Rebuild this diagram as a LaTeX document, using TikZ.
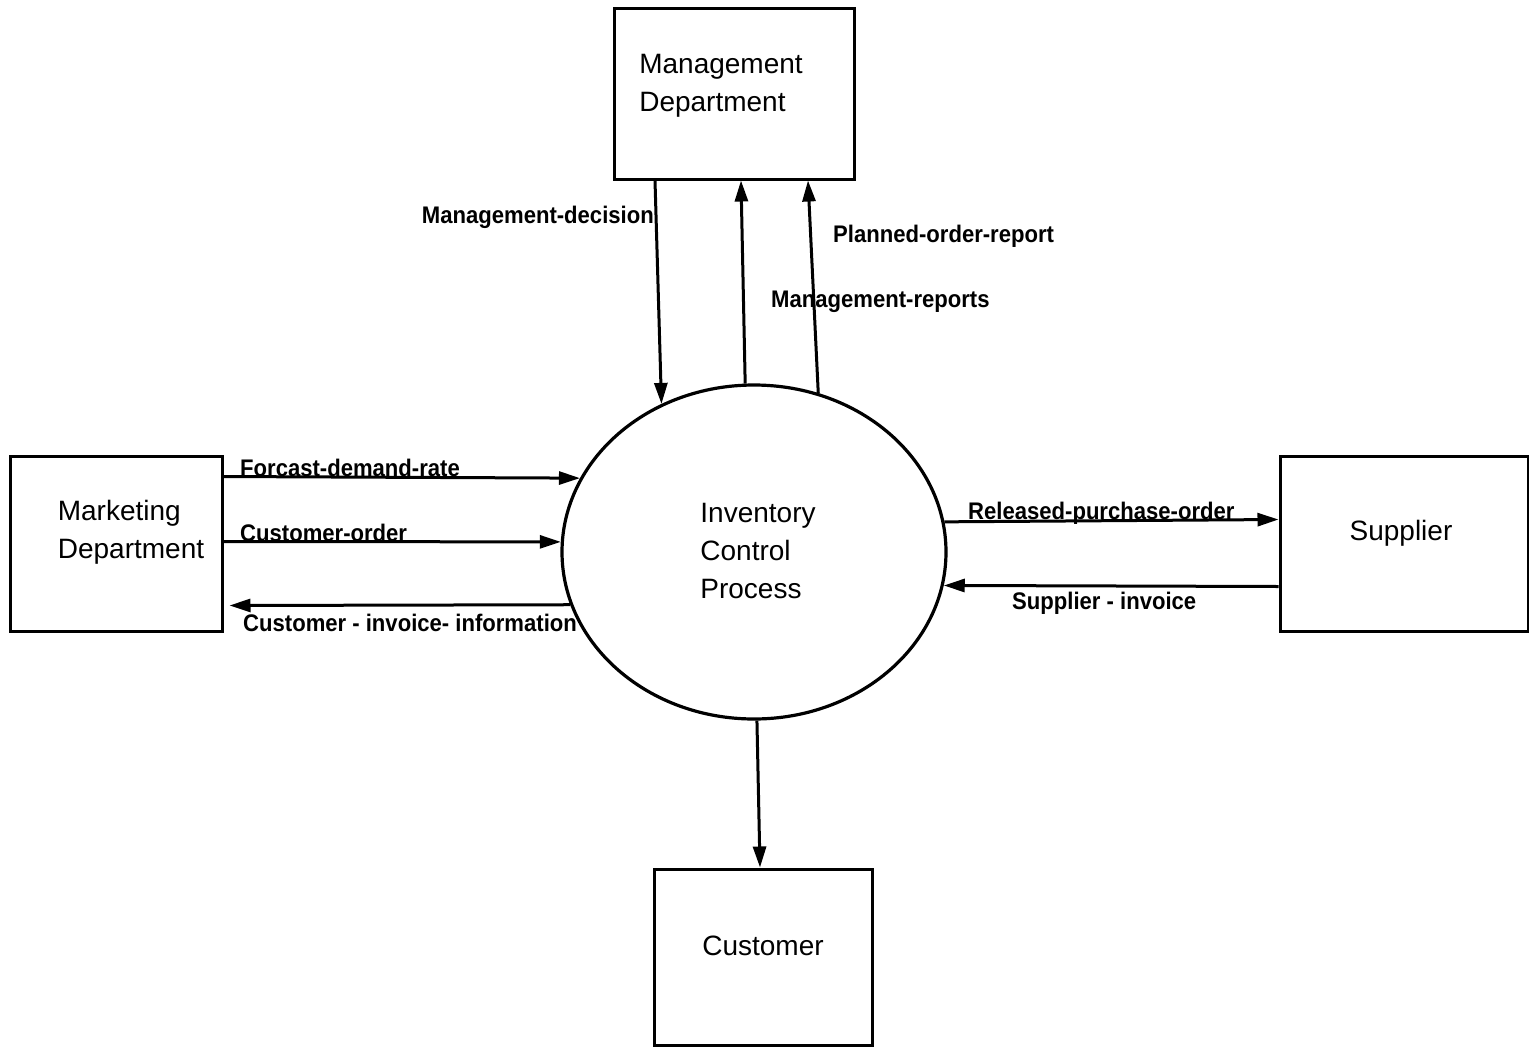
\documentclass[tikz,border=0pt]{standalone}
\usepackage{fontspec}
\setmainfont{Liberation Sans}
\newfontfamily\flowfont[FakeStretch=0.92]{Liberation Sans Bold}
\usetikzlibrary{shapes.geometric,arrows.meta,calc}
\begin{document}
\begin{tikzpicture}[x=1pt,y=-1pt,
  entity/.style={draw,line width=3pt,inner sep=0pt},
  process/.style={draw,ellipse,line width=3.2pt,minimum width=384pt,minimum height=334pt,inner sep=0pt},
  boxtext/.style={font=\fontsize{28}{38}\selectfont,align=left,inner sep=0pt},
  flowlabel/.style={font=\fontsize{24}{28}\selectfont\flowfont,inner sep=0pt},
  flow/.style={line width=3pt,-{Triangle[length=21pt,width=13pt]}}]
\useasboundingbox (0,0) rectangle (1529,1047);
\fill[white] (0,0) rectangle (1529,1047);

% external entities and the central process
\node[entity,minimum width=240pt,minimum height=171pt] (mgmt) at (734.5,93.5) {};
\node[boxtext] (mgmtT) at (721,86) {Management\\Department};
\node[entity,minimum width=212pt,minimum height=175pt] (mkt) at (116,543.5) {};
\node[boxtext] (mktT) at (131,532) {Marketing\\Department};
\node[entity,minimum width=248pt,minimum height=175pt] (sup) at (1404,543.5) {};
\node[boxtext] (supT) at (1401,533) {Supplier};
\node[entity,minimum width=218pt,minimum height=176pt] (cust) at (763,957) {};
\node[boxtext] (custT) at (763,946) {Customer};
\node[process] (proc) at (754,552) {};
\node[boxtext] (procT) at (758,551) {Inventory\\Control\\Process};

% flows between management and the process
\draw[flow] ($(mgmt.south west)+(42,0)$) -- (proc.122);
\draw[flow] (proc.93) -- ($(mgmt.south west)+(128,0)$);
\draw[flow] (proc.68) -- ($(mgmt.south west)+(195,0)$);

% flows between marketing and the process
\draw[flow] ($(mkt.north east)+(0,22)$) -- (proc.157);
\draw[flow] ($(mkt.north east)+(0,87)$) -- (proc.177);
\draw[flow] (proc.196) -- ($(mkt.north east)+(6,151)$);

% flows between the process and the supplier
\draw[flow] (proc.9) -- ($(sup.north west)+(0,65)$);
\draw[flow] ($(sup.north west)+(0,132)$) -- (proc.350);

% flow to the customer
\draw[flow] (proc.271) -- ($(cust.north)+(-3,0)$);

% flow labels
\node[flowlabel,anchor=base east] (lMD) at (654,223) {Management-decision};
\node[flowlabel,anchor=base west] (lPO) at (833,242) {Planned-order-report};
\node[flowlabel,anchor=base west] (lMR) at (771,307) {Management-reports};
\node[flowlabel,anchor=base west] (lFD) at (240,476) {Forcast-demand-rate};
\node[flowlabel,anchor=base west] (lCO) at (240,541) {Customer-order};
\node[flowlabel,anchor=base west] (lCI) at (243,631) {Customer - invoice- information};
\node[flowlabel,anchor=base west] (lRP) at (968,519) {Released-purchase-order};
\node[flowlabel,anchor=base west] (lSI) at (1012,609) {Supplier - invoice};
\end{tikzpicture}
\end{document}
